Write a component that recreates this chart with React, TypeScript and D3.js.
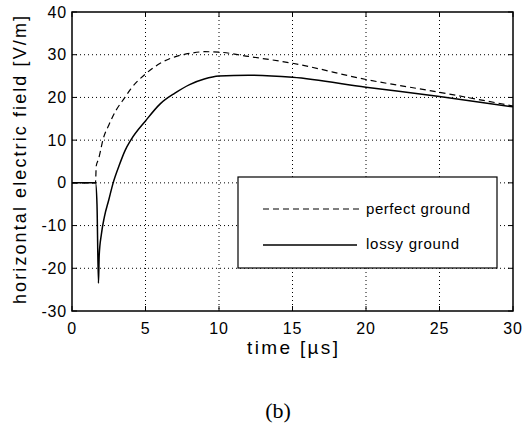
import React from "react";
import * as d3 from "d3";

// time [µs]
const perfectT = [0, 1.6, 1.65, 1.8, 2.0, 2.1, 2.5, 3, 3.6, 4, 5, 6, 7, 8, 9, 10, 12, 15, 20, 25, 30];
const perfectE = [0, 0, 4, 5.5, 8.5, 10, 13.5, 17, 20, 22, 25.5, 28, 29.5, 30.3, 30.7, 30.6, 29.6, 28, 24.2, 21.2, 18];

const lossyT = [0, 1.6, 1.7, 1.8, 1.85, 2.0, 2.2, 2.5, 2.8, 3.2, 3.6, 4, 5, 6, 7, 8, 9, 10, 12, 15, 20, 25, 30];
const lossyE = [0, 0, -5, -23.5, -17, -12, -8, -4, 0, 4, 7.5, 10, 14.5, 18.5, 21, 23, 24.3, 25, 25.2, 24.7, 22.4, 20.2, 17.8];

const xTicks = [0, 5, 10, 15, 20, 25, 30];
const yTicks = [-30, -20, -10, 0, 10, 20, 30, 40];

const legendLabels = ["perfect ground", "lossy ground"];

export default function App() {
  const width = 527;
  const height = 431;
  const left = 72;
  const right = 513;
  const top = 12;
  const bottom = 311;

  const x = d3.scaleLinear().domain([0, 30]).range([left, right]);
  const y = d3.scaleLinear().domain([-30, 40]).range([bottom, top]);

  const line = d3
    .line<[number, number]>()
    .x((d) => x(d[0]))
    .y((d) => y(d[1]))
    .curve(d3.curveMonotoneX);

  const perfect = perfectT.map((t, i) => [t, perfectE[i]] as [number, number]);
  const lossy = lossyT.map((t, i) => [t, lossyE[i]] as [number, number]);

  const font = "'Liberation Sans', Arial, sans-serif";

  return (
    <svg
      width={width}
      height={height}
      style={{ position: "absolute", left: 0, top: 0, background: "#fff" }}
    >
      <rect width={width} height={height} fill="#fff" />

      {/* grid */}
      <g stroke="#000" strokeWidth={1} strokeDasharray="1,3">
        {xTicks.slice(1, -1).map((t) => (
          <line key={"gx" + t} x1={x(t)} x2={x(t)} y1={top} y2={bottom} />
        ))}
        {yTicks.slice(1, -1).map((t) => (
          <line key={"gy" + t} x1={left} x2={right} y1={y(t)} y2={y(t)} />
        ))}
      </g>

      {/* curves */}
      <path d={line(perfect) || ""} fill="none" stroke="#000" strokeWidth={1.2} strokeDasharray="6,4" />
      <path d={line(lossy) || ""} fill="none" stroke="#000" strokeWidth={1.5} />

      {/* frame + ticks */}
      <rect x={left} y={top} width={right - left} height={bottom - top} fill="none" stroke="#000" strokeWidth={1.5} />
      <g stroke="#000" strokeWidth={1}>
        {xTicks.map((t) => (
          <g key={"tx" + t}>
            <line x1={x(t)} x2={x(t)} y1={bottom} y2={bottom - 5} />
            <line x1={x(t)} x2={x(t)} y1={top} y2={top + 5} />
          </g>
        ))}
        {yTicks.map((t) => (
          <g key={"ty" + t}>
            <line x1={left} x2={left + 5} y1={y(t)} y2={y(t)} />
            <line x1={right} x2={right - 5} y1={y(t)} y2={y(t)} />
          </g>
        ))}
      </g>

      {/* tick labels */}
      <g fontFamily={font} fontSize={16} letterSpacing={0.8} fill="#000">
        {xTicks.map((t) => (
          <text key={"lx" + t} x={x(t)} y={334} textAnchor="middle">
            {t}
          </text>
        ))}
        {yTicks.map((t) => (
          <text key={"ly" + t} x={left - 5} y={y(t) + 5.5} textAnchor="end">
            {t}
          </text>
        ))}
      </g>

      {/* axis labels */}
      <text
        fontFamily={font}
        fontSize={18}
        textLength={288}
        lengthAdjust="spacing"
        transform={`translate(26,${160 + 144}) rotate(-90)`}
      >
        horizontal electric field [V/m]
      </text>
      <text
        fontFamily={font}
        fontSize={19}
        x={247}
        y={354}
        textLength={91}
        lengthAdjust="spacing"
      >
        time [µs]
      </text>

      {/* legend */}
      <rect x={238} y={177} width={259} height={91} fill="#fff" stroke="#000" strokeWidth={1.2} />
      <line x1={263} x2={360} y1={209} y2={209} stroke="#000" strokeWidth={1.2} strokeDasharray="6,4" />
      <line x1={263} x2={357} y1={245} y2={245} stroke="#000" strokeWidth={1.5} />
      <g fontFamily={font} fontSize={15}>
        <text x={366} y={214} textLength={104} lengthAdjust="spacing">{legendLabels[0]}</text>
        <text x={366} y={249} textLength={93} lengthAdjust="spacing">{legendLabels[1]}</text>
      </g>

      <text fontFamily="'Liberation Serif', 'Times New Roman', serif" fontSize={22} textAnchor="middle" x={278} y={418}>
        (b)
      </text>
    </svg>
  );
}
